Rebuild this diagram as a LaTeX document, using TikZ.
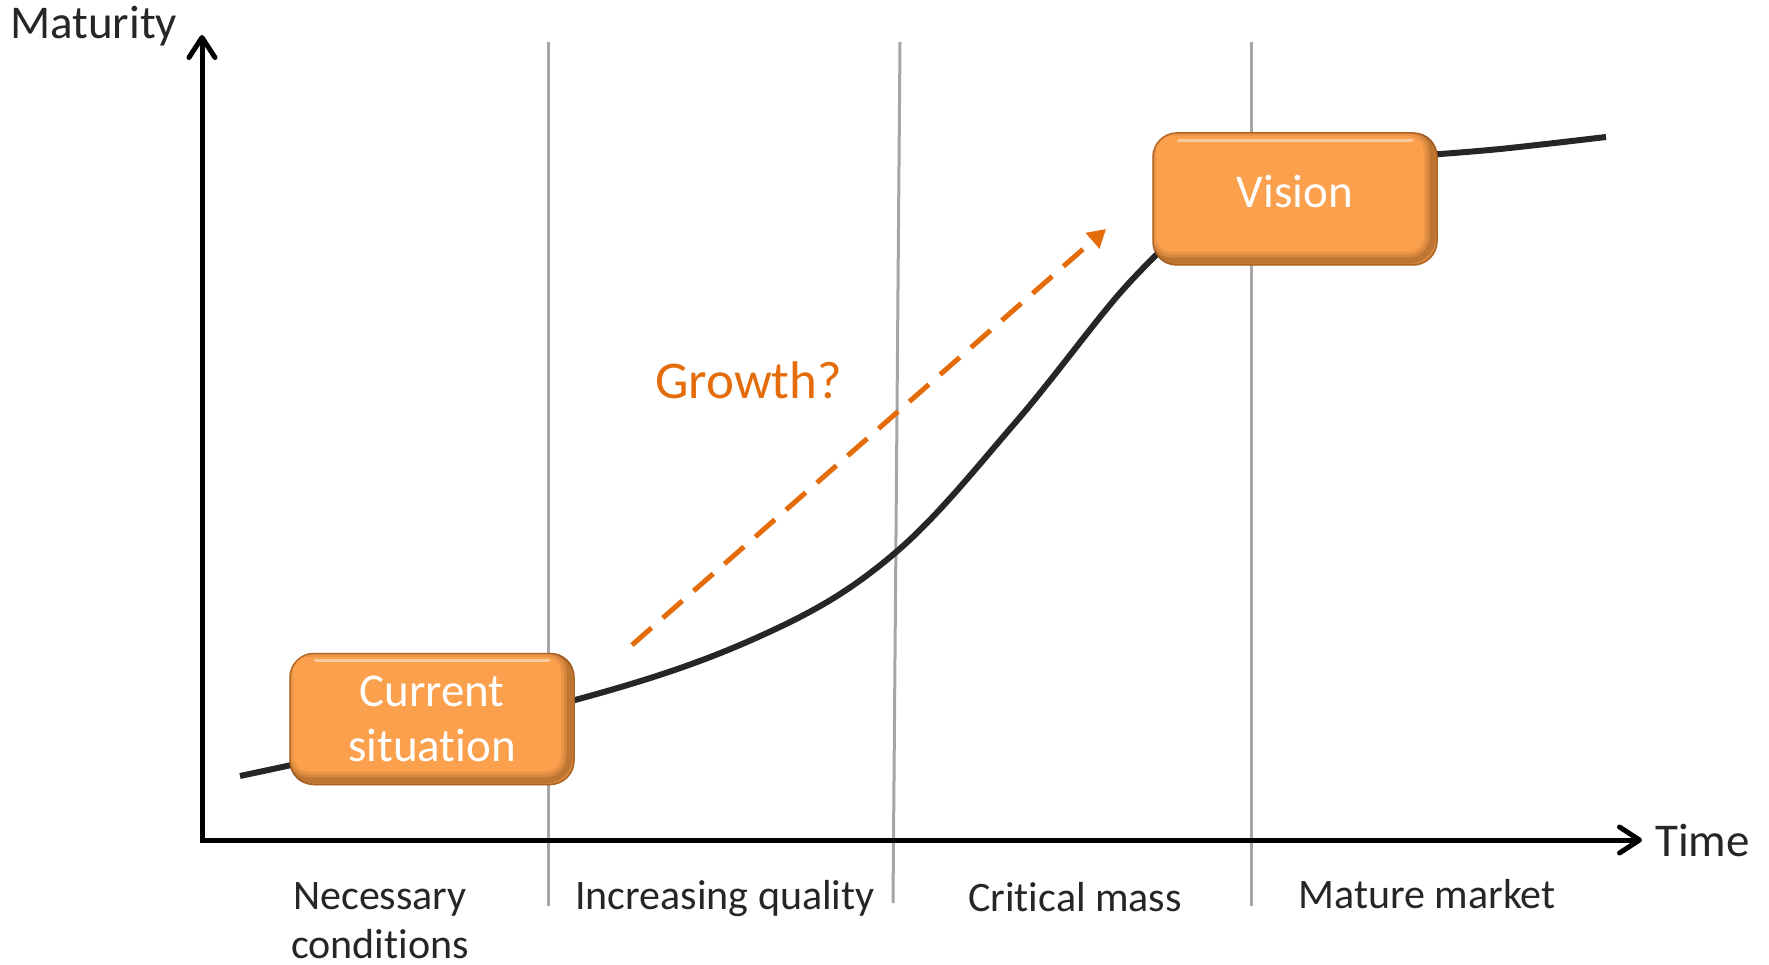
\documentclass[tikz,border=0pt]{standalone}
\usepackage{fontspec}
\setmainfont{Carlito}[Ligatures={NoCommon,NoContextual}]
\usetikzlibrary{arrows.meta}
\definecolor{boxorange}{RGB}{251,161,78}
\definecolor{boxedge}{RGB}{196,112,40}
\definecolor{boxshade}{RGB}{110,60,15}
\definecolor{growthc}{RGB}{228,108,10}
\definecolor{gridgray}{RGB}{166,166,166}
\definecolor{curvec}{RGB}{38,38,38}
\definecolor{labelc}{RGB}{38,38,38}
\tikzset{
 sepline/.style={draw=gridgray, line width=3pt},
 axisline/.style={draw=black, line width=5pt, line join=miter,
   {Straight Barb[length=20pt,width=26pt,round]}-{Straight Barb[length=20pt,width=26pt,round]}},
 scurve/.style={draw=curvec, line width=6pt},
 growth/.style={draw=growthc, line width=5pt, dash pattern=on 26pt off 15pt,
   -{Triangle[length=18pt,width=20pt]}},
 stagebox/.style={rectangle, rounded corners=24pt, fill=boxorange, draw=boxedge,
   line width=1.5pt, inner sep=0pt, text=white, align=center,
   font=\fontsize{47}{55}\selectfont},
 axislabel/.style={inner sep=0pt, text=labelc, font=\fontsize{47}{55}\selectfont},
 phaselabel/.style={inner sep=0pt, text=labelc, align=center, font=\fontsize{42}{49}\selectfont},
 growthlabel/.style={inner sep=0pt, text=growthc, font=\fontsize{53}{60}\selectfont},
}
\newcommand\boxbevel[1]{%
  \begin{scope}
    \clip[rounded corners=24pt] (#1.south west) rectangle (#1.north east);
    \foreach \w/\o in {18/0.12,12/0.15,6/0.22}{
      \draw[boxshade, line width=\w pt, opacity=\o, rounded corners=24pt]
        ([shift={(-5pt,5pt)}]#1.south west) rectangle ([shift={(-5pt,5pt)}]#1.north east);
    }
    \draw[white, line width=3pt, opacity=0.45, line cap=round]
      ([shift={(26pt,-8pt)}]#1.north west) -- ([shift={(-26pt,-8pt)}]#1.north east);
  \end{scope}}
\begin{document}
\begin{tikzpicture}[x=1pt,y=-1pt]
\useasboundingbox (0,0) rectangle (1769,965);
% phase separators
\coordinate (s1t) at (548,42);  \coordinate (s1b) at (548,906);
\coordinate (s2t) at (900,42);  \coordinate (s2b) at (893,903);
\coordinate (s3t) at (1251,42); \coordinate (s3b) at (1251,906);
\draw[sepline] (s1t) -- (s1b);
\draw[sepline] (s2t) -- (s2b);
\draw[sepline] (s3t) -- (s3b);
% axes
\coordinate (ytip) at (202,35);
\coordinate (orig) at (202,840);
\coordinate (xtip) at (1642,840);
\draw[axisline] (ytip) -- (orig) -- (xtip);
% S curve (hidden behind the boxes where it passes them)
\draw[scurve] plot[smooth, tension=0.6] coordinates {
 (240,776) (575,700) (767,633) (895,553) (1015,423) (1120,293) (1185,228)};
\draw[scurve] plot[smooth, tension=0.6] coordinates {
 (1420,155.5) (1500,149) (1606,137)};
% growth arrow
\coordinate (gs) at (632,645);
\coordinate (ge) at (1106,229);
\draw[growth] (gs) -- (ge);
% boxes
\node[stagebox, minimum width=284pt, minimum height=131pt] (current) at (432,719) {Current\\situation};
\boxbevel{current}
\node[stagebox, minimum width=284pt, minimum height=132pt, text height=30pt, text depth=12pt] (vision) at (1295,199) {Vision};
\boxbevel{vision}
% labels
\node[axislabel, anchor=base west] (maturity) at (10,39) {Maturity};
\node[axislabel, anchor=base west] (time) at (1655,856) {Time};
\node[growthlabel, anchor=base west] (growthlbl) at (655,399) {Growth?};
\node[phaselabel, anchor=north] (necessary) at (380,882) {Necessary\\conditions};
\node[phaselabel, anchor=base] (increasing) at (725,909) {Increasing quality};
\node[phaselabel, anchor=base] (critical) at (1075,911) {Critical mass};
\node[phaselabel, anchor=base] (mature) at (1427,908) {Mature market};
\end{tikzpicture}
\end{document}
